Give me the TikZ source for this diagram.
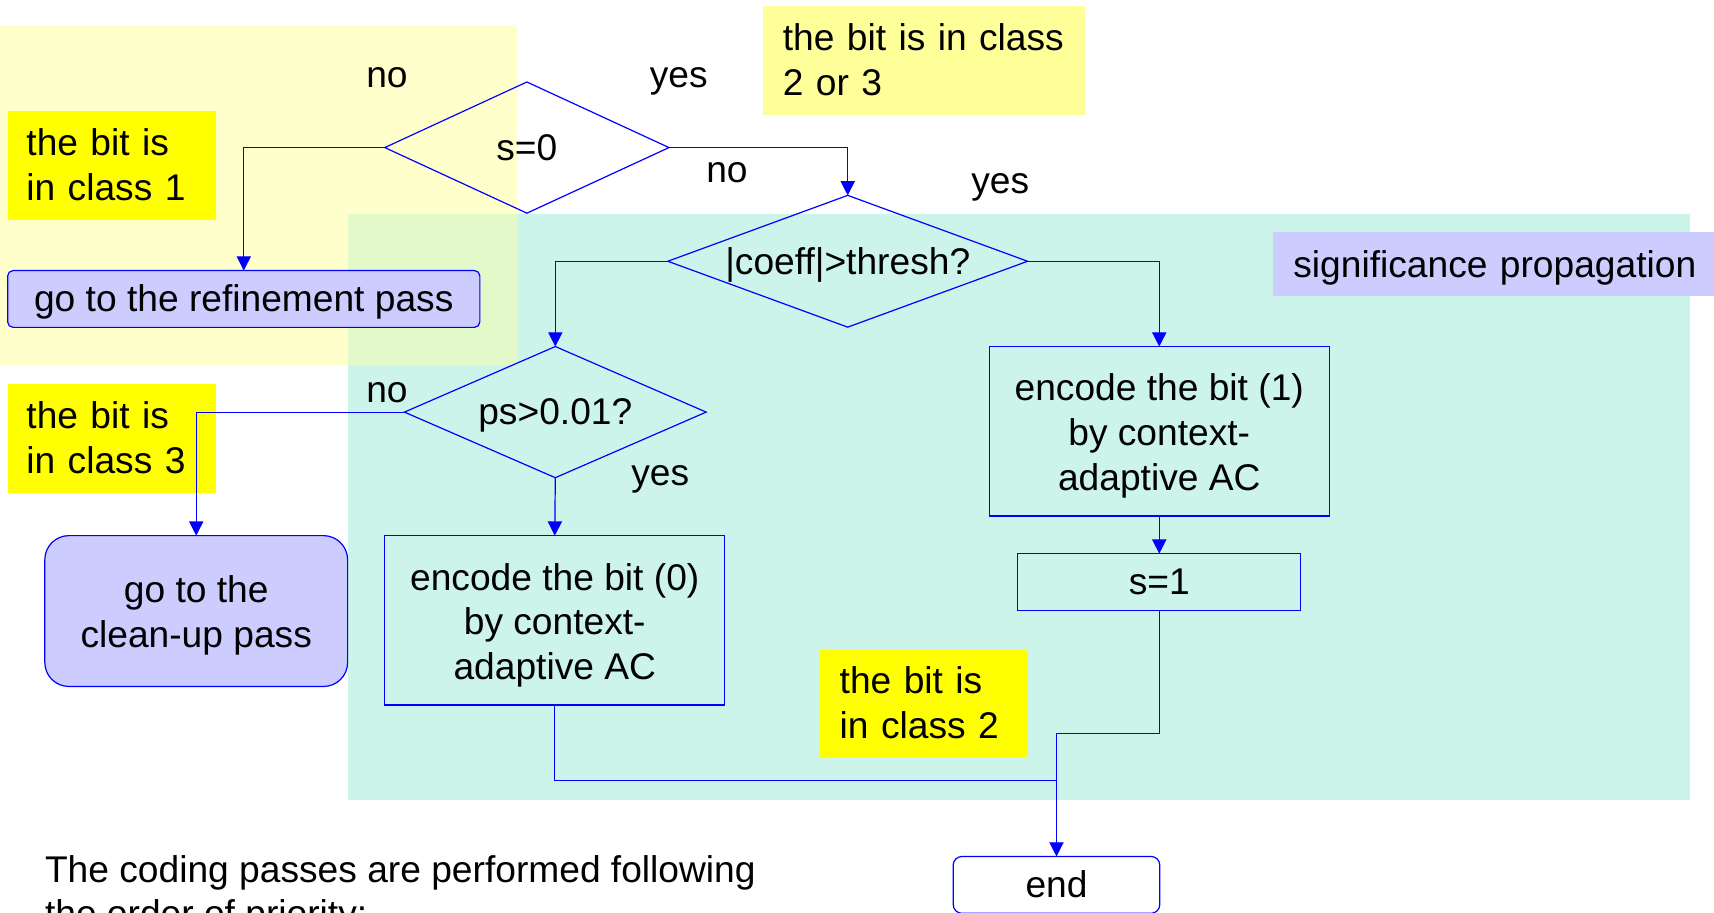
\documentclass[tikz,border=0pt]{standalone}
\usepackage{fontspec}
\setmainfont{Liberation Sans}
\usetikzlibrary{shapes.geometric,arrows.meta}
\definecolor{bgyellow}{HTML}{FFFFCC}
\definecolor{bgteal}{HTML}{CCF4EA}
\definecolor{bgmix}{HTML}{E4F9C9}
\definecolor{noteyellow}{HTML}{FFFF99}
\definecolor{hiyellow}{HTML}{FFFF00}
\definecolor{lav}{HTML}{CCCCFF}
\definecolor{flowblue}{HTML}{0000FF}
\newcommand\mytopst[1]{\rule{0pt}{#1}}
\newcommand\mybotst{\rule[-7.5pt]{0pt}{0pt}}
\begin{document}
\begin{tikzpicture}[x=1pt,y=-1pt,
  font=\fontsize{34}{41}\selectfont,
  linestrut/.style={execute at begin node={\rule{0pt}{31pt}}, execute at end node={\rule[-7.5pt]{0pt}{0pt}}},
  flow/.style={draw=flowblue, line width=1.1pt},
  arr/.style={flow, -{Triangle[length=13pt,width=13pt]}},
  proc/.style={linestrut, draw=flowblue, line width=1.1pt, rectangle, inner sep=0pt, align=center, outer sep=0pt},
  dec/.style={linestrut, draw=flowblue, line width=1.1pt, diamond, inner sep=0pt, outer sep=0pt},
  note/.style={linestrut, rectangle, inner ysep=0pt, align=left, anchor=north west},
  lbl/.style={anchor=base, inner sep=0pt}]
\useasboundingbox (0,0) rectangle (1568,835);
\clip (0,0) rectangle (1568,835);
\fill[white] (0,0) rectangle (1568,835);
% background regions
\fill[bgyellow] (0,23) rectangle (473,334);
\fill[bgteal] (318,196) rectangle (1546,732);
\fill[bgmix] (318,196) rectangle (473,334);
% notes
\node[note, fill=hiyellow, minimum width=190pt, minimum height=100pt, inner xsep=17pt, text width=156pt] (c1) at (7,101) {the bit is\\in class 1};
\node[note, fill=hiyellow, minimum width=190pt, minimum height=100pt, inner xsep=17pt, text width=156pt] (c3) at (7,351) {the bit is\\in class 3};
\node[note, fill=hiyellow, minimum width=190pt, minimum height=98pt, inner xsep=18pt, text width=154pt] (c2) at (750,594) {the bit is\\in class 2};
\node[note, fill=noteyellow, minimum width=294pt, minimum height=100pt, inner xsep=18pt, text width=258pt] (c23) at (698,5) {the bit is in class\\2 or 3};
\node[note, fill=lav, minimum width=420pt, minimum height=59pt, inner xsep=19pt, text width=382pt] (sig) at (1164,212) {significance propagation};
% decisions
\node[dec, minimum width=260pt, minimum height=120pt, aspect=2.17] (s0) at (482,135) {s=0};
\node[dec, minimum width=328pt, minimum height=120pt, aspect=2.73] (coeff) at (775.5,239) {|coeff|>thresh?};
\node[dec, minimum width=276pt, minimum height=120pt, aspect=2.3] (ps) at (508,377) {ps>0.01?};
% process boxes
\node[proc, fill=lav, rounded corners=5pt, minimum width=432pt, minimum height=52pt] (ref) at (223,273.5) {go to the refinement pass};
\node[proc, fill=lav, rounded corners=22pt, minimum width=277pt, minimum height=138pt] (clean) at (179.5,559) {\mytopst{33pt}go to the\\clean-up pass\mybotst};
\node[proc, minimum width=311pt, minimum height=155pt] (enc0) at (507.5,567.5) {\mytopst{34pt}encode the bit (0)\\by context-\\adaptive AC\mybotst};
\node[proc, minimum width=311pt, minimum height=155pt] (enc1) at (1060.5,394.5) {\mytopst{34pt}encode the bit (1)\\by context-\\adaptive AC\mybotst};
\node[proc, minimum width=259pt, minimum height=52pt] (s1) at (1060.5,532.5) {s=1};
\node[proc, fill=white, rounded corners=8pt, minimum width=189pt, minimum height=52pt] (endn) at (966.5,809.5) {end};
% labels
\node[lbl] (l1) at (354,80) {no};
\node[lbl] (l2) at (621,80) {yes};
\node[lbl] (l3) at (665,167) {no};
\node[lbl] (l4) at (915,177) {yes};
\node[lbl] (l5) at (354,368) {no};
\node[lbl] (l6) at (604,444) {yes};
% caption
\node[anchor=base west, inner sep=0pt] (cap1) at (41,807) {The coding passes are performed following};
\node[anchor=base west, inner sep=0pt] (cap2) at (41,848) {the order of priority:};
% connectors
\coordinate (lvA) at (0,671);
\coordinate (lvB) at (0,714);
\draw[arr] (s0.west) -| (ref.north);
\draw[arr] (s0.east) -| (coeff.north);
\draw[arr] (coeff.west) -| (ps.north);
\draw[arr] (coeff.east) -| (enc1.north);
\draw[arr] (ps.west) -| (clean.north);
\draw[arr] (ps.south) -- (enc0.north);
\draw[arr] (enc1.south) -- (s1.north);
\draw[arr] (s1.south) |- (endn.north |- lvA) -- (endn.north);
\draw[flow] (enc0.south) |- (endn.north |- lvB);
\end{tikzpicture}
\end{document}
